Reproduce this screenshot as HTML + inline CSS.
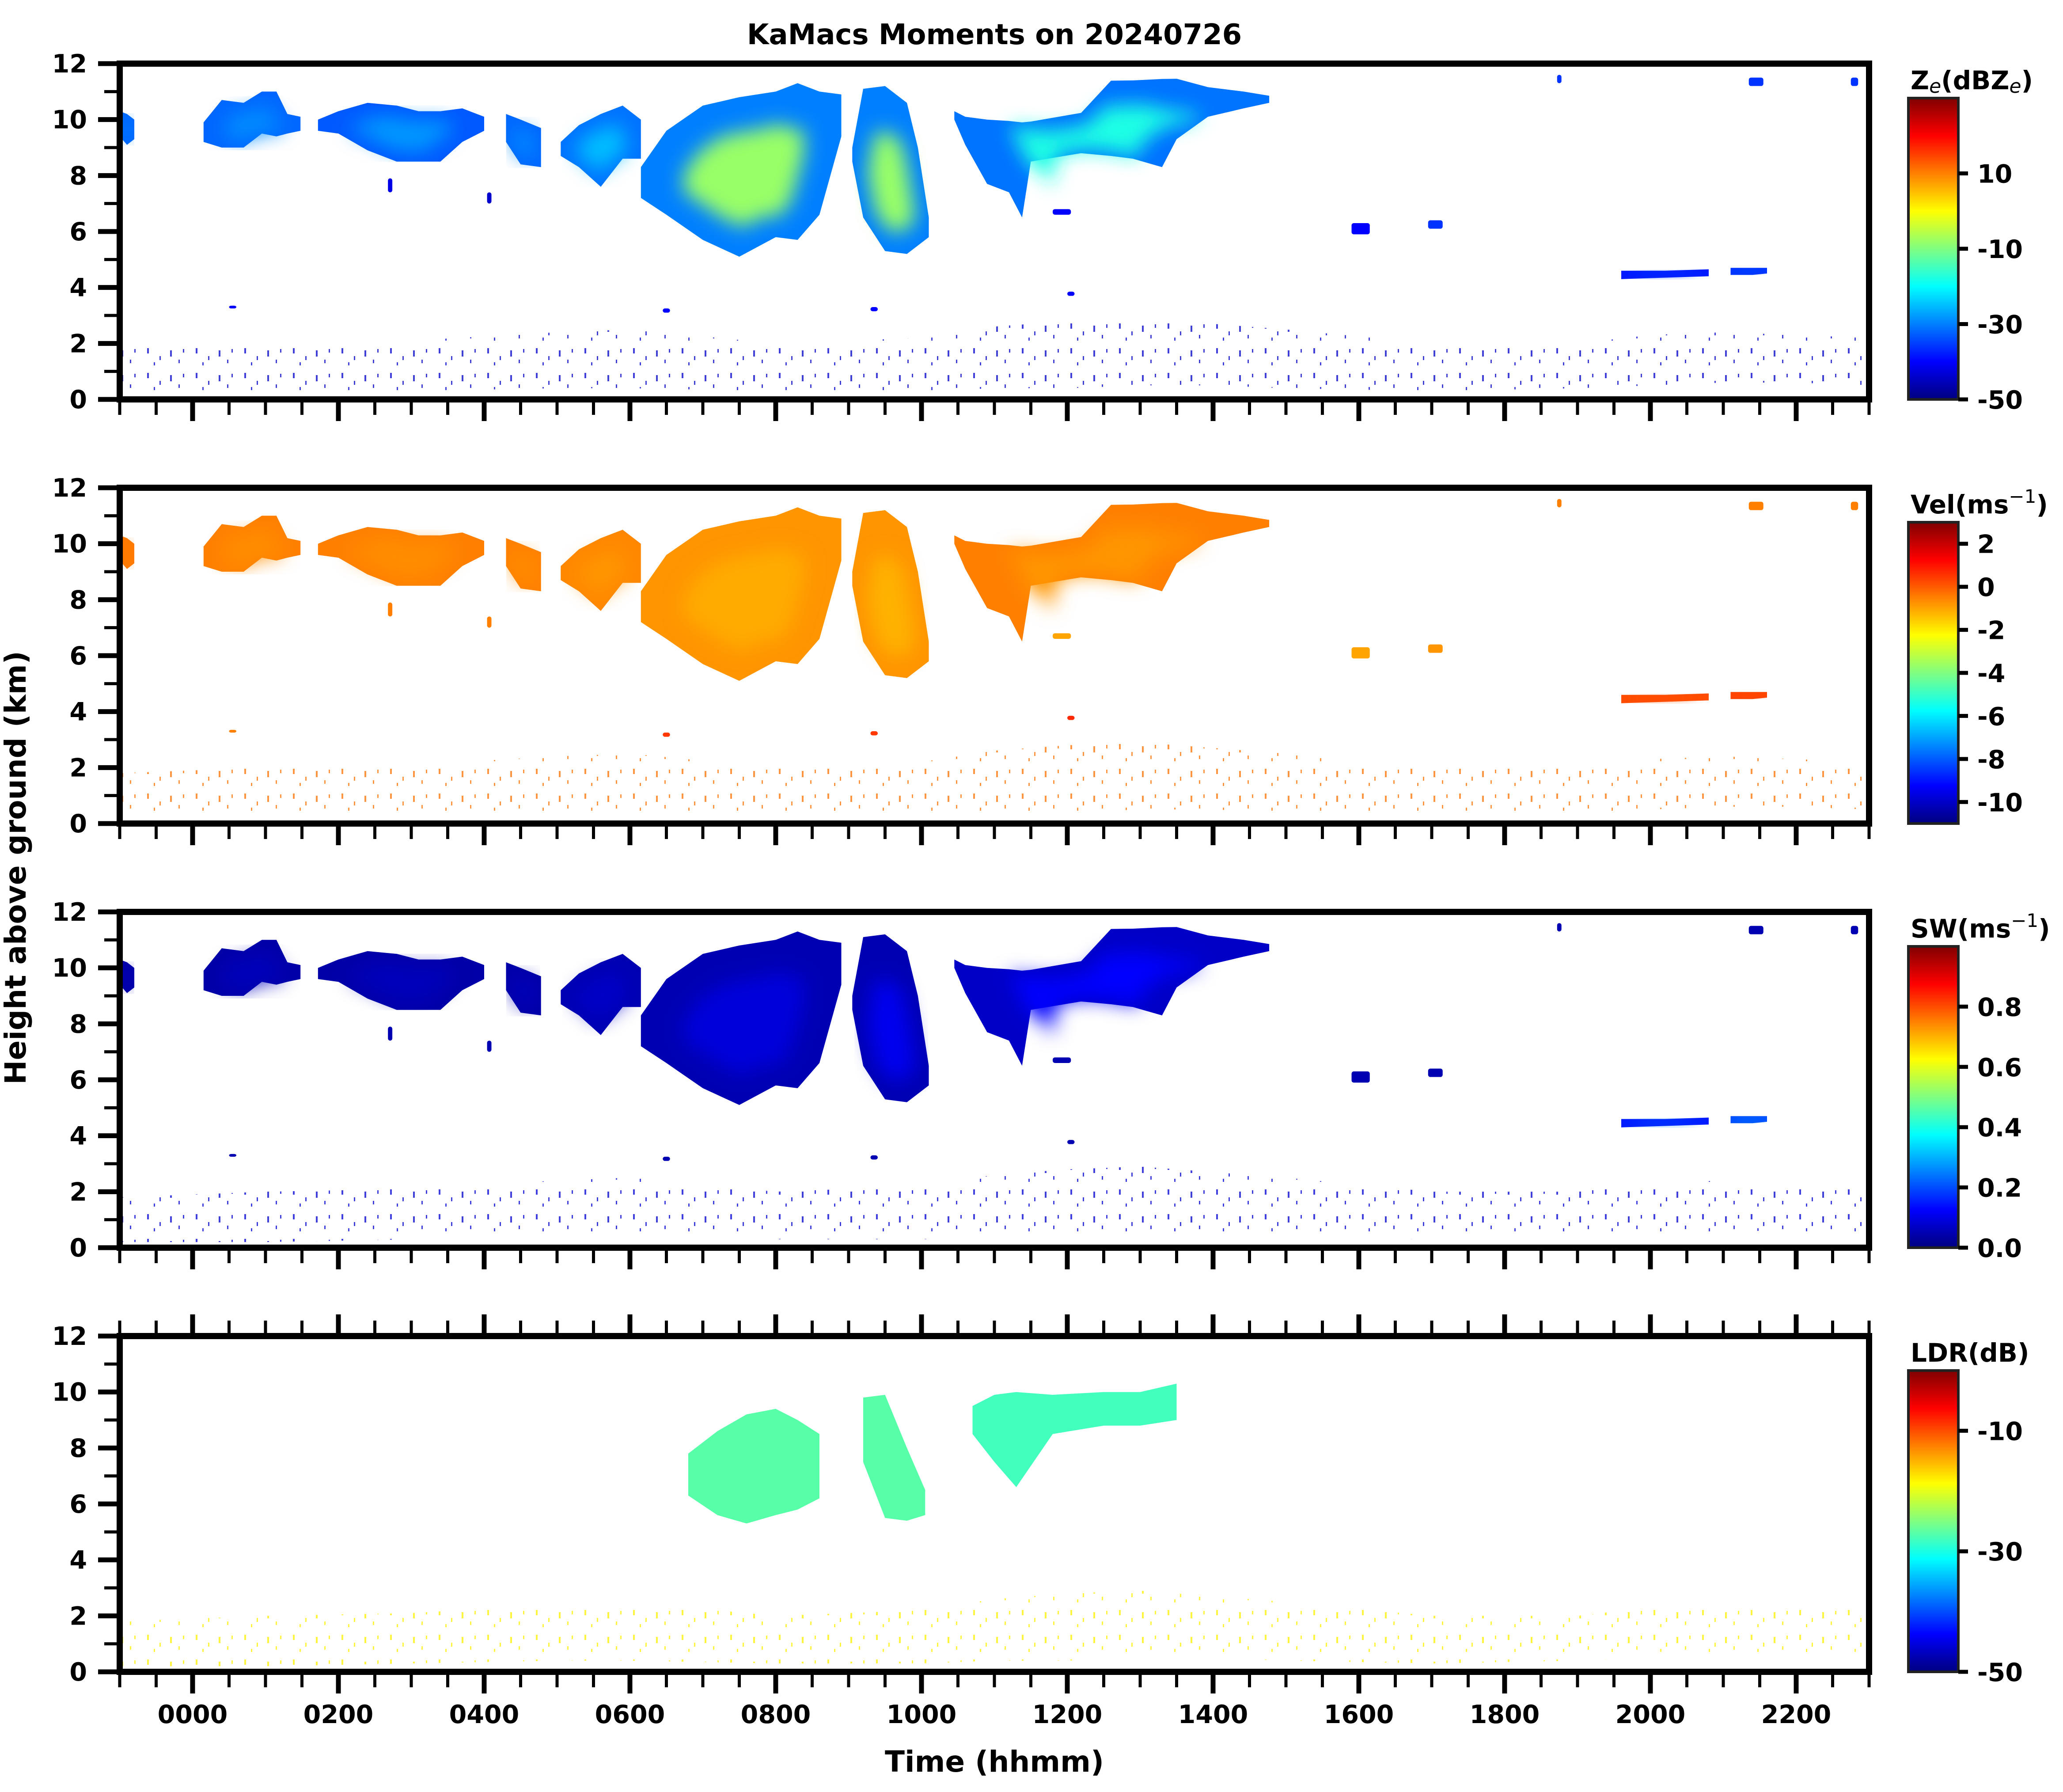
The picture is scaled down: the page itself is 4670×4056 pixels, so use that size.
<!DOCTYPE html>
<html><head><meta charset="utf-8"><title>KaMacs Moments on 20240726</title>
<style>
html,body{margin:0;padding:0;background:#fff;}
svg{display:block;font-family:"DejaVu Sans","Liberation Sans",sans-serif;font-weight:bold;}
</style></head>
<body>
<svg id="fig" xmlns="http://www.w3.org/2000/svg" width="4670" height="4056" viewBox="0 0 4670 4056">
<defs>
<filter id="blur" x="-30%" y="-30%" width="160%" height="160%"><feGaussianBlur stdDeviation="22"/></filter>
</defs>
<text x="2251" y="100" font-size="64" text-anchor="middle">KaMacs Moments on 20240726</text>
<text x="0" y="0" font-size="66" text-anchor="middle" transform="translate(58,1964) rotate(-90)">Height above ground (km)</text>
<text x="2251" y="4010" font-size="66" text-anchor="middle">Time (hhmm)</text>
</svg>
<script>
// ---- data: cloud geometry (time in hours, heights in km) ----
const aT=[-1.0,-0.9,-0.8]; const aTop=[10.3,10.2,10.0]; const aBase=[9.4,9.1,9.3];
const bT=[0.15,0.4,0.7,0.95,1.15,1.3,1.48]; const bTop=[9.9,10.7,10.6,11.0,11.0,10.2,10.1]; const bBase=[9.2,9.0,9.0,9.5,9.4,9.5,9.6];
const cT=[1.72,2.0,2.4,2.8,3.1,3.4,3.7,4.0]; const cTop=[10.0,10.3,10.6,10.5,10.3,10.3,10.4,10.1]; const cBase=[9.6,9.5,8.9,8.5,8.5,8.5,9.2,9.6];
const dT=[4.3,4.5,4.78]; const dTop=[10.2,10.0,9.7]; const dBase=[9.2,8.4,8.3];
const eT=[5.05,5.3,5.6,5.9,6.15]; const eTop=[9.2,9.8,10.2,10.5,10.0]; const eBase=[8.7,8.3,7.6,8.6,8.6];
const fT=[6.15,6.5,7.0,7.5,8.0,8.3,8.6,8.9]; const fTop=[8.3,9.6,10.5,10.8,11.0,11.3,11.0,10.9]; const fBase=[7.2,6.6,5.7,5.1,5.8,5.7,6.6,9.4];
const gT=[9.05,9.2,9.5,9.8,9.95,10.1]; const gTop=[9.0,11.1,11.2,10.6,9.0,6.5]; const gBase=[8.5,6.5,5.3,5.2,5.5,5.8];
const hT=[10.45,10.6,10.9,11.2,11.38,11.5,12.19,12.6,12.9,13.3,13.5,13.93,14.42,14.77];
const hTop=[10.3,10.1,10.0,9.95,9.9,9.93,10.24,11.39,11.4,11.45,11.46,11.16,11.0,10.85];
const hBase=[10.0,9.1,7.7,7.4,6.5,8.5,8.8,8.7,8.6,8.3,9.3,10.1,10.4,10.6];
const l1T=[19.6,20.2,20.8]; const l1Top=[4.6,4.6,4.65]; const l1Base=[4.3,4.35,4.4];
const l2T=[21.1,21.4,21.6]; const l2Top=[4.7,4.7,4.7]; const l2Base=[4.45,4.45,4.5];
// small blobs: start time, end time, base, top
const blobT0=[15.9,16.95,11.8,21.35,22.75,18.72,0.5,6.45,9.3,12.0,2.68,4.04];
const blobT1=[16.15,17.15,12.05,21.55,22.85,18.78,0.6,6.55,9.4,12.1,2.74,4.1];
const blobBase=[5.9,6.1,6.6,11.2,11.2,11.3,3.25,3.1,3.15,3.7,7.4,7.0];
const blobTop=[6.3,6.4,6.8,11.5,11.5,11.6,3.35,3.25,3.3,3.85,7.9,7.4];
// boundary-layer echo band
const blT=[-1,1,3,5,6,8,10,11,12,13,14,15,17,19,20,21,22,23];
const blTop=[1.8,2.0,2.1,2.4,2.5,2.0,2.2,2.6,2.8,2.9,2.7,2.5,2.0,2.0,2.3,2.4,2.3,2.2];
const blBase=[0.2,0.2,0.3,0.4,0.4,0.3,0.3,0.4,0.4,0.5,0.5,0.4,0.3,0.4,0.5,0.6,0.6,0.5];
// LDR-only geometry
const ldrFT=[6.8,7.2,7.6,8.0,8.3,8.6]; const ldrFTop=[7.8,8.6,9.2,9.4,9.0,8.5]; const ldrFBase=[6.3,5.6,5.3,5.6,5.8,6.2];
const ldrGT=[9.2,9.5,9.8,10.05]; const ldrGTop=[9.8,9.9,8.0,6.5]; const ldrGBase=[7.5,5.5,5.4,5.6];
const ldrHT=[10.7,11.0,11.3,11.8,12.5,13.0,13.5]; const ldrHTop=[9.5,9.9,10.0,9.9,10.0,10.0,10.3]; const ldrHBase=[8.5,7.5,6.6,8.5,8.8,8.8,9.0];
// ---- per-cloud values (order a,b,c,d,e,f,g,h,l1,l2) ----
const zEdge=[-32,-32,-33,-32,-31,-30,-30,-31,-38,-36];
const zCore=[-29,-29,-28,-29,-25,-8,-8,-18,-34,-32];
const velEdge=[-0.4,-0.5,-0.5,-0.5,-0.6,-0.8,-0.8,-0.5,0.2,0.3];
const velCore=[-0.6,-0.7,-0.7,-0.7,-0.8,-1.1,-1.2,-0.8,0.2,0.3];
const swEdge=[0.04,0.04,0.04,0.04,0.05,0.05,0.05,0.07,0.15,0.2];
const swCore=[0.06,0.06,0.06,0.06,0.07,0.09,0.11,0.13,0.25,0.3];
const ldrVal=[-27,-27,-28];
const blobZ=[-40,-36,-40,-36,-36,-36,-40,-40,-40,-40,-42,-44];
const blobVel=[-1,-0.8,-1,-0.5,-0.5,-0.5,-0.5,0.5,0.5,0.7,-0.5,-0.5];
const blobSW=[0.05,0.05,0.05,0.05,0.05,0.05,0.05,0.05,0.05,0.05,0.05,0.05];
const blZ=-44, blVel=-0.3, blSW=0.08, blLDR=-18;
// ---- colorbars ----
const cbMin=[-50,-11,0,-50]; const cbMax=[30,3,1,0];
const cbTicks=[[10,-10,-30,-50],[2,0,-2,-4,-6,-8,-10],[0.8,0.6,0.4,0.2,0.0],[-10,-30,-50]];
const cbTickLabels=[["10","-10","-30","-50"],["2","0","-2","-4","-6","-8","-10"],["0.8","0.6","0.4","0.2","0.0"],["-10","-30","-50"]];
const xTickLabels=["0000","0200","0400","0600","0800","1000","1200","1400","1600","1800","2000","2200"];
const yTickLabels=["0","2","4","6","8","10","12"];

// ---- layout ----
const NS="http://www.w3.org/2000/svg";
const svg=document.getElementById('fig');
const defs=svg.querySelector('defs');
const X0=271,X1=4231,TMIN=-1,TMAX=23,PH=760,PT=[144,1104,2064,3024];
function xs(t){return X0+(t-TMIN)/(TMAX-TMIN)*(X1-X0);}
function ys(h,p){return PT[p]+PH-h/12*PH;}
function jet(x){x=Math.max(0,Math.min(1,x));const c=v=>Math.round(255*Math.max(0,Math.min(1,v)));
 return `rgb(${c(1.5-Math.abs(4*x-3))},${c(1.5-Math.abs(4*x-2))},${c(1.5-Math.abs(4*x-1))})`;}
function col(v,p){return jet((v-cbMin[p])/(cbMax[p]-cbMin[p]));}
function mk(tag,attrs,parent){const e=document.createElementNS(NS,tag);for(const k in attrs)e.setAttribute(k,attrs[k]);(parent||svg).appendChild(e);return e;}
function polyPts(T,Top,Base,p){const pts=[];for(let i=0;i<T.length;i++)pts.push([xs(T[i]),ys(Top[i],p)]);
 for(let i=T.length-1;i>=0;i--)pts.push([xs(T[i]),ys(Base[i],p)]);return pts;}
function ptsStr(pts){return pts.map(q=>q[0].toFixed(1)+','+q[1].toFixed(1)).join(' ');}

const clouds=[[aT,aTop,aBase],[bT,bTop,bBase],[cT,cTop,cBase],[dT,dTop,dBase],[eT,eTop,eBase],[fT,fTop,fBase],[gT,gTop,gBase],[hT,hTop,hBase],[l1T,l1Top,l1Base],[l2T,l2Top,l2Base]];
const panelNames=['reflectivity','velocity','spectrum-width','ldr'];
const speck=[[3,4,4,12],[31,22,3,9],[55,9,4,14],[74,30,3,8],[18,36,3,7],[84,6,3,8]];

for(let p=0;p<4;p++){
 const blv=[blZ,blVel,blSW,blLDR][p];
 const pat=mk('pattern',{id:'speck'+p,width:110,height:56,patternUnits:'userSpaceOnUse'},defs);
 speck.forEach(s=>mk('rect',{x:s[0],y:s[1],width:s[2],height:s[3],fill:col(blv,p)},pat));
 const clipId='clip'+p;
 const cp=mk('clipPath',{id:clipId},defs);
 mk('rect',{x:X0,y:PT[p],width:X1-X0,height:PH},cp);
 const g=mk('g',{'clip-path':`url(#${clipId})`});
 
 
 const bl=mk('polygon',{points:ptsStr(polyPts(blT,blTop,blBase,p)),fill:`url(#speck${p})`,opacity:0.75},g);
 
 
 if(p<3){
  const edge=[zEdge,velEdge,swEdge][p], core=[zCore,velCore,swCore][p];
  clouds.forEach((c,i)=>{
   const pts=polyPts(c[0],c[1],c[2],p);
   const e=mk('polygon',{points:ptsStr(pts),fill:col(edge[i],p)},g);
   
   
   let cx=0,cy=0;pts.forEach(q=>{cx+=q[0];cy+=q[1];});cx/=pts.length;cy/=pts.length;
   const ys0=Math.min(...pts.map(q=>q[1])),ys1=Math.max(...pts.map(q=>q[1]));
   cy+=(ys1-ys0)*0.12;
   const inner=pts.map(q=>[cx+(q[0]-cx)*0.6,cy+(q[1]-cy)*0.6]);
   const k=mk('polygon',{points:ptsStr(inner),fill:col(core[i],p),filter:'url(#blur)'},g);
   
   
  });
  const bv=[blobZ,blobVel,blobSW][p];
  blobT0.forEach((t0,i)=>{
   const r=mk('rect',{x:xs(t0),y:ys(blobTop[i],p),width:xs(blobT1[i])-xs(t0),height:ys(blobBase[i],p)-ys(blobTop[i],p),rx:5,fill:col(bv[i],p)},g);
   
   
  });
 } else {
  [[ldrFT,ldrFTop,ldrFBase],[ldrGT,ldrGTop,ldrGBase],[ldrHT,ldrHTop,ldrHBase]].forEach((c,i)=>{
   const e=mk('polygon',{points:ptsStr(polyPts(c[0],c[1],c[2],p)),fill:col(ldrVal[i],p)},g);
   
   
  });
 }
 const fr=mk('rect',{x:X0,y:PT[p],width:X1-X0,height:PH,fill:'none',stroke:'#000','stroke-width':14});
 
 
 for(let h=0;h<=12;h++){
  const y=ys(h,p),major=h%2===0;
  const tk=mk('line',{x1:X0-7-(major?42:28),x2:X0,y1:y,y2:y,stroke:'#000','stroke-width':major?11:7});
  
  
  if(major){const tx=mk('text',{x:197,y:y+20,'font-size':57,'text-anchor':'end'});tx.textContent=yTickLabels[h/2];
   
   }
 }
 const sides=p===3?['bottom','top']:['bottom'];
 sides.forEach(s=>{
  for(let m=0;m<=48;m++){
   const t=TMIN+m*0.5; if(t>TMAX)break;
   const x=xs(t),major=(Math.round(t*2)%4===0);
   const len=major?42:28;
   const y0=s==='bottom'?PT[p]+PH+7:PT[p]-7;
   const y1=s==='bottom'?y0+len:y0-len;
   const tk=mk('line',{x1:x,x2:x,y1:y0,y2:y1,stroke:'#000','stroke-width':major?11:7});
   
   
  }
 });
 const cbx=4320,cbw=113,cby=PT[p]+78,cbh=PH-78;
 const gid='grad'+p;
 const lg=mk('linearGradient',{id:gid,x1:0,y1:1,x2:0,y2:0},defs);
 for(let s=0;s<=16;s++){mk('stop',{offset:s/16,'stop-color':jet(s/16)},lg);}
 const cb=mk('rect',{x:cbx,y:cby,width:cbw,height:cbh,fill:`url(#${gid})`,stroke:'#222','stroke-width':6});
 
 
 cbTicks[p].forEach((v,i)=>{
  const y=cby+cbh-(v-cbMin[p])/(cbMax[p]-cbMin[p])*cbh;
  const tk=mk('line',{x1:cbx+cbw,x2:cbx+cbw+22,y1:y,y2:y,stroke:'#000','stroke-width':9});
  
  
  const tx=mk('text',{x:4476,y:y+21,'font-size':57});tx.textContent=cbTickLabels[p][i];
  
  
 });
}
xTickLabels.forEach((lab,i)=>{
 const tx=mk('text',{x:xs(i*2),y:3900,'font-size':57,'text-anchor':'middle'});tx.textContent=lab;
 
 
});
const cbTitles=[
 '<tspan>Z</tspan><tspan font-size="44" font-weight="normal" font-style="italic" dy="8">e</tspan><tspan dy="-8">(dBZ</tspan><tspan font-size="44" font-weight="normal" font-style="italic" dy="8">e</tspan><tspan dy="-8">)</tspan>',
 '<tspan>Vel(ms</tspan><tspan font-size="42" font-weight="normal" dy="-24">−1</tspan><tspan dy="24">)</tspan>',
 '<tspan>SW(ms</tspan><tspan font-size="42" font-weight="normal" dy="-24">−1</tspan><tspan dy="24">)</tspan>',
 '<tspan>LDR(dB)</tspan>'];
cbTitles.forEach((h,p)=>{
 const tx=mk('text',{x:4325,y:PT[p]+58,'font-size':58});tx.innerHTML=h;
 
 
});
</script>
</body></html>
